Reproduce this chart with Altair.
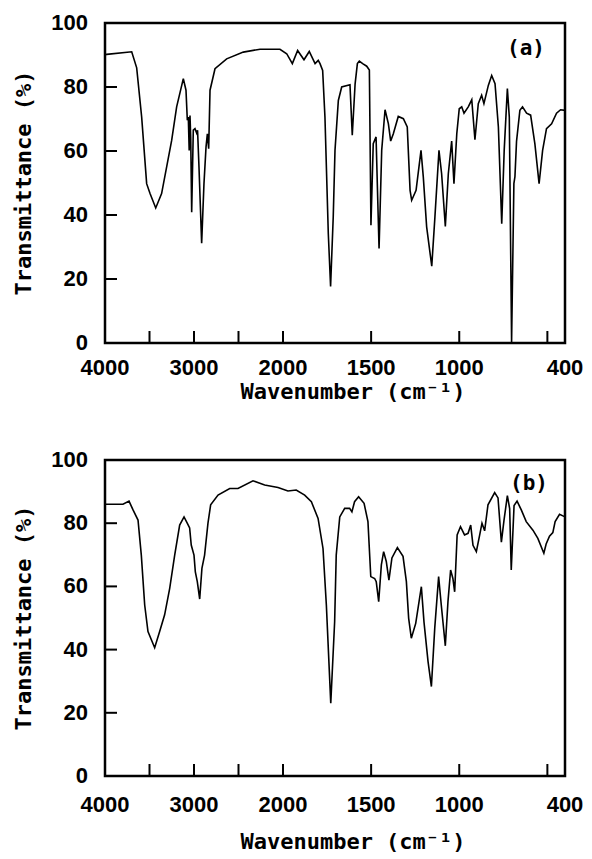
import altair as alt
import pandas as pd

# ---------------- data ----------------
wn_a = [4000, 3981, 3700, 3644, 3588, 3532, 3494, 3430, 3364, 3251, 3195, 3120, 3090, 3075,
        3064, 3054, 3045, 3037, 3026, 3008, 2989, 2970, 2960, 2944, 2914, 2888, 2865, 2850,
        2835, 2820, 2764, 2633, 2446, 2258, 2034, 1979, 1947, 1917, 1881, 1851, 1818, 1800,
        1790, 1775, 1762, 1743, 1730, 1715, 1705, 1686, 1667, 1620, 1607, 1591, 1578, 1567,
        1548, 1525, 1510, 1501, 1488, 1472, 1455, 1440, 1421, 1402, 1389, 1374, 1346, 1317,
        1295, 1279, 1270, 1245, 1217, 1204, 1185, 1156, 1138, 1115, 1100, 1079, 1062, 1043,
        1030, 1014, 1000, 986, 973, 949, 929, 911, 892, 873, 860, 835, 816, 797, 778, 759,
        745, 727, 716, 703, 690, 684, 675, 656, 641, 618, 595, 571, 547, 527, 505, 476, 448,
        425, 400]
t_a = [90, 90.2, 91, 86, 70.6, 49.8, 46.7, 42.2, 46.7, 63.3, 73.8, 82.6, 79, 69.6,
       70.6, 60.2, 71.1, 64.4, 40.9, 66.5, 67, 65.6, 66.5, 55, 31.2, 49.8, 61.2, 65.4,
       60.7, 79, 85.7, 88.8, 90.9, 91.8, 91.8, 90.4, 87.3, 91.4, 88.5, 91.1, 87.3, 88.3,
       87.3, 85.2, 70.6, 34.2, 17.7, 39.4, 60.2, 75.8, 80, 80.7, 64.9, 80.9, 87.3, 88.1,
       87.3, 86.5, 85.3, 36.8, 62.3, 64.4, 29.5, 60.2, 72.9, 68.5, 63.1, 65.4, 70.8, 70.1,
       67.5, 47.7, 44.6, 47.7, 60.2, 51.9, 36.3, 24, 39.4, 60.2, 52.9, 36.4, 52.9, 63.1,
       49.8, 65.4, 73.2, 73.8, 71.8, 73.8, 76, 63.5, 74.8, 77.4, 74.8, 80.5, 83.6, 81, 67.5, 37.3,
       60.2, 79.5, 70.6, 0.3, 49.8, 52, 63, 72.7, 73.8, 71.8, 71.2, 62.3, 49.8, 60.2, 67, 68.5, 71.8,
       72.9, 72.7]

wn_b = [4000, 3985, 3798, 3730, 3685, 3629, 3592, 3554, 3517, 3442, 3386, 3330, 3273, 3217,
        3161, 3112, 3076, 3049, 3031, 3000, 2985, 2963, 2936, 2911, 2881, 2843, 2813, 2730,
        2599, 2506, 2337, 2206, 2056, 1972, 1925, 1877, 1839, 1801, 1773, 1754, 1729, 1707,
        1698, 1678, 1650, 1622, 1609, 1594, 1571, 1540, 1518, 1502, 1480, 1471, 1457, 1442,
        1429, 1414, 1399, 1382, 1351, 1319, 1300, 1287, 1272, 1247, 1215, 1200, 1177, 1158,
        1139, 1117, 1102, 1079, 1064, 1049, 1036, 1026, 1012, 993, 970, 950, 935, 922, 903,
        884, 871, 856, 837, 799, 780, 761, 746, 727, 714, 705, 689, 672, 648, 620, 582, 554,
        520, 507, 488, 469, 456, 431, 400]
t_b = [86, 86, 86, 87, 84.2, 81, 69.9, 54.1, 45.7, 40.6, 45.7, 51, 59.4, 69.9,
       79.4, 82, 80, 78.5, 73.1, 69.9, 64.6, 61.5, 56, 65.7, 69.9, 80, 85.8, 88.9,
       91, 91, 93.4, 92.1, 91.3, 90.2, 90.5, 88.9, 86.8, 81.5, 72, 54.1, 23, 48.8,
       69.9, 82, 84.7, 84.7, 83.6, 86.8, 88.4, 86.3, 80.5, 63.1, 62.5, 61.5, 55.2, 66.8,
       71, 67.9, 62, 69, 72.3, 69.5, 61.5, 49.9, 43.6, 48.3, 59.9, 48.7, 36.2, 28.3,
       46.8, 63.1, 54.1, 41.2, 55.2, 65.2, 62.5, 58.3, 76.3, 78.9, 76.3, 76.8, 79.4, 73, 71,
       76.3, 80, 77.6, 85.8, 89.7, 88, 74, 81, 88.7, 84.6, 65.2, 85.6, 87, 84.2, 80.5, 77.8, 75.2,
       70.5, 73.4, 75.9, 77, 80.5, 82.8, 82]

x_label_values = [4000, 3000, 2000, 1500, 1000, 400]
x_tick_values = [3500, 3000, 2500, 2000, 1500, 1000, 500]
y_label_values = [0, 20, 40, 60, 80, 100]
y_tick_values = [20, 40, 60, 80]
x_title = "Wavenumber (cm⁻¹)"
y_title = "Transmittance (%)"
panel_labels = ["(a)", "(b)"]

# ---------------- styling ----------------
W = 460
SANS = "Liberation Sans"
MONO = "DejaVu Sans Mono"
TICK_LEN = 12


def xscale():
    return alt.Scale(domain=[4000, 2000, 400], range=[0, 178, W], nice=False, zero=False)


def yscale():
    return alt.Scale(domain=[0, 100], nice=False, zero=False)


def panel(wn, t, label, H, xlab_y, xtitle_y, lab_x, lab_y):
    X = lambda f: alt.X(f, scale=xscale(), axis=None)
    Y = lambda f: alt.Y(f, scale=yscale(), axis=None)

    line = alt.Chart(pd.DataFrame({"wn": wn, "t": t})).mark_line(
        color="black", strokeWidth=1.6).encode(x=X("wn:Q"), y=Y("t:Q"))

    xt = alt.Chart(pd.DataFrame({"wn": x_tick_values})).mark_rule(
        color="black", strokeWidth=2).encode(
        x=X("wn:Q"), y=alt.value(H), y2=alt.value(H - TICK_LEN))
    yt = alt.Chart(pd.DataFrame({"t": y_tick_values})).mark_rule(
        color="black", strokeWidth=2).encode(
        y=Y("t:Q"), x=alt.value(0), x2=alt.value(TICK_LEN))

    xl = alt.Chart(pd.DataFrame({"wn": x_label_values,
                                 "s": [str(v) for v in x_label_values]})).mark_text(
        font=SANS, fontWeight="bold", fontSize=22, color="black",
        align="center", baseline="top").encode(
        x=X("wn:Q"), y=alt.value(H + xlab_y), text="s:N")
    yl = alt.Chart(pd.DataFrame({"t": y_label_values,
                                 "s": [str(v) for v in y_label_values]})).mark_text(
        font=SANS, fontWeight="bold", fontSize=22, color="black",
        align="right", baseline="middle").encode(
        y=Y("t:Q"), x=alt.value(-17), text="s:N")

    xtt = alt.Chart(pd.DataFrame({"s": [x_title]})).mark_text(
        font=MONO, fontWeight="bold", fontSize=22, color="black",
        align="center", baseline="top").encode(
        x=alt.value(248), y=alt.value(H + xtitle_y), text="s:N")
    ytt = alt.Chart(pd.DataFrame({"s": [y_title]})).mark_text(
        font=MONO, fontWeight="bold", fontSize=22, color="black",
        align="center", baseline="middle", angle=270).encode(
        x=alt.value(-81), y=alt.value(H / 2), text="s:N")

    txt = alt.Chart(pd.DataFrame({"s": [label]})).mark_text(
        font=MONO, fontWeight="bold", fontSize=21, color="black",
        align="center", baseline="middle").encode(
        x=alt.value(lab_x), y=alt.value(lab_y), text="s:N")
    return alt.layer(line, xt, yt, xl, yl, xtt, ytt, txt).properties(width=W, height=H)


pa = panel(wn_a, t_a, panel_labels[0], 320, 15, 39, 421, 26)
pb = panel(wn_b, t_b, panel_labels[1], 316, 19, 56, 424, 24)

chart = alt.vconcat(pa, pb, spacing=42).properties(
    padding={"left": 11, "top": 10, "right": 5, "bottom": 2},
    background="white",
).configure_view(stroke="black", strokeWidth=2.5)

chart.save("out.html", embed_options={"renderer": "svg", "actions": False})
